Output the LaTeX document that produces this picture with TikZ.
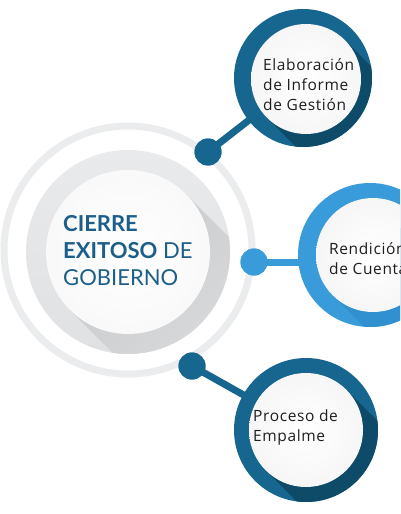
\documentclass[tikz,border=0pt]{standalone}
\usepackage{fontspec}
\setmainfont{Open Sans}[LetterSpace=4]
\newfontfamily\titlefont{Lato}
\definecolor{dblue}{HTML}{17668F}
\definecolor{dbluesh}{HTML}{0E4B69}
\definecolor{lblue}{HTML}{3A9BDA}
\definecolor{lbluesh}{HTML}{3190D0}
\definecolor{ringgray}{HTML}{EBECEE}
\definecolor{diskgray}{HTML}{E0E1E3}
\definecolor{disklight}{HTML}{E9EAEC}
\definecolor{shadowgray}{HTML}{C9CACC}
\definecolor{titleblue}{HTML}{1C5E8A}
\definecolor{txt}{HTML}{1E1E1E}
\tikzset{
  dot/.style={circle, fill=#1, minimum size=27pt, inner sep=0pt, outer sep=0pt},
  ringnode/.style={circle, minimum size=#1, inner sep=0pt, outer sep=0pt},
  conn/.style={line width=7pt, draw=#1},
  label/.style={anchor=west, align=left, text=txt, font=\fontsize{15.5}{20}\selectfont, inner sep=0pt},
}
% outer x, y, outer r, inner x, inner y, inner r, color, shadow color
\newcommand{\ringcircle}[8]{%
  \fill[#7] (#1,#2) circle (#3);
  \begin{scope}
    \clip (#1,#2) circle (#3);
    \fill[#8] ({#4+0.7071*#6},{#5-0.7071*#6}) -- ++(150,150) -- ({#4-0.7071*#6+150},{#5+0.7071*#6+150}) -- ({#4-0.7071*#6},{#5+0.7071*#6}) -- cycle;
  \end{scope}
  \shade[inner color=white, outer color=white!93!gray] (#4,#5) circle (#6);
}
\begin{document}
\begin{tikzpicture}[x=1pt,y=-1pt]
\useasboundingbox (0,0) rectangle (400,514);
\clip (0,0) rectangle (400,514);
\fill[white] (0,0) rectangle (400,514);

% central composition
\draw[ringgray, line width=7pt] (128,250) circle (124);
\shade[top color=disklight, bottom color=diskgray] (128,252) circle (102);
\begin{scope}
  \clip (128,252) circle (102);
  \shade[left color=shadowgray, right color=diskgray, shading angle=45]
    (186,194) -- (306,314) -- (190,430) -- (70,310) -- cycle;
\end{scope}
\node[circle, minimum size=164pt, inner sep=0pt, shade, inner color=white, outer color=white!95!gray] (center) at (128,252) {};
\node[anchor=west, align=left, text=titleblue, inner sep=0pt,
      font=\titlefont\fontsize{22}{27}\selectfont] (title) at (63,251)
  {\textbf{CIERRE}\\\textbf{EXITOSO} DE\\GOBIERNO};

% node positions
\node[ringnode=138pt] (n1) at (303,78) {};
\node[ringnode=144pt] (n2) at (370,255) {};
\node[ringnode=144pt] (n3) at (306,430) {};
\node[dot=dblue] (d1) at (208,152) {};
\node[dot=lblue] (d2) at (254,262) {};
\node[dot=dblue] (d3) at (192,366) {};

% connectors
\draw[conn=dblue] (d1.center) -- (n1.center);
\draw[conn=lblue] (d2.center) -- (d2.center -| n2.center);
\draw[conn=dblue] (d3.center) -- (n3.center);
\node[dot=dblue] at (d1) {};
\node[dot=lblue] at (d2) {};
\node[dot=dblue] at (d3) {};

% ring circles
\ringcircle{303}{78}{69}{306}{79}{55}{dblue}{dbluesh}
\ringcircle{370}{255}{72}{373}{255}{57}{lblue}{lbluesh}
\ringcircle{306}{430}{72}{306}{430}{57}{dblue}{dbluesh}

% labels
\node[label] (t1) at (263,85) {Elaboración\\de Informe\\de Gestión};
\node[label] (t2) at (329,259) {Rendición\\de Cuentas};
\node[label] (t3) at (253,427) {Proceso de\\Empalme};
\end{tikzpicture}
\end{document}
